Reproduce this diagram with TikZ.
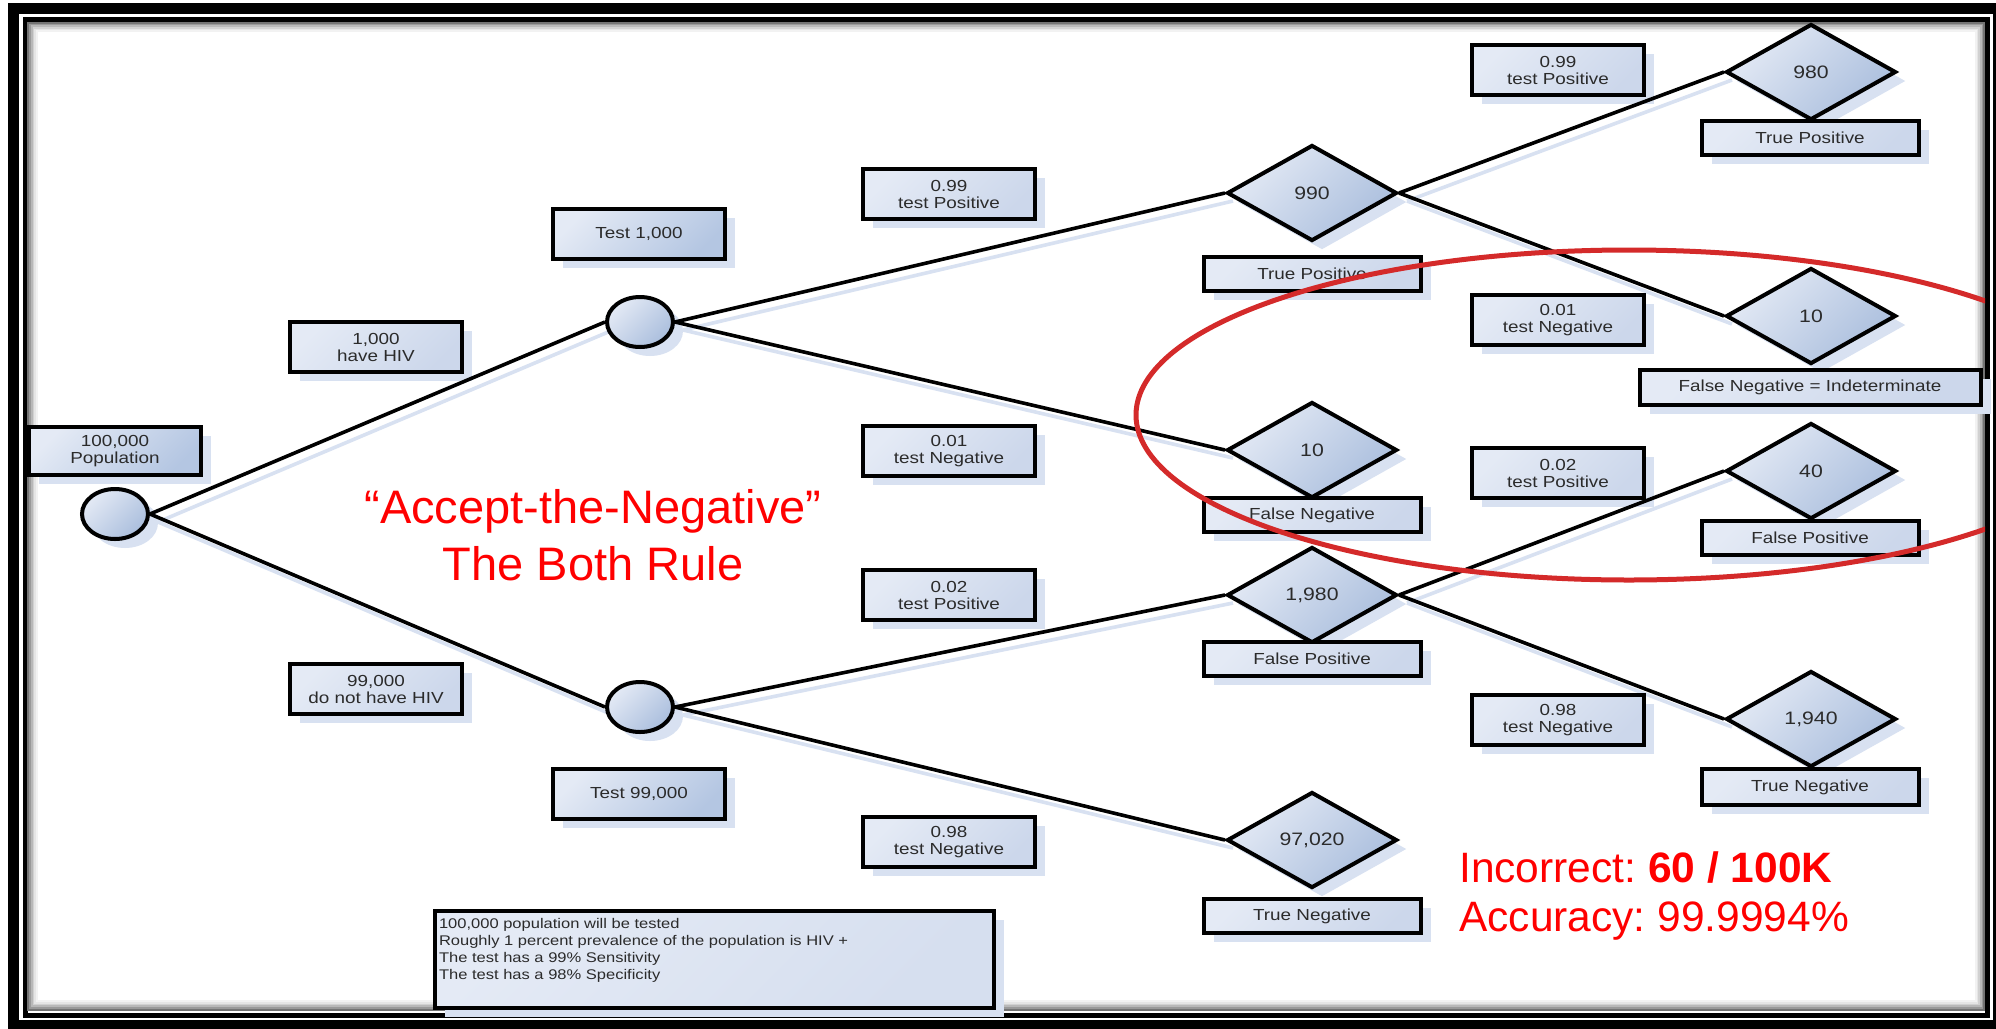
\documentclass[tikz,border=0pt]{standalone}
\usepackage{fontspec}
\setmainfont{Liberation Sans}
\newfontfamily\vsdfont[FakeStretch=1.18]{Liberation Sans}
\usetikzlibrary{shapes.geometric,shadows,backgrounds}
\frenchspacing
\definecolor{boxlight}{HTML}{E4EAF5}
\definecolor{boxdark}{HTML}{CCD7EB}
\definecolor{testdark}{HTML}{B4C6E2}
\definecolor{dialight}{HTML}{E4EAF5}
\definecolor{diadark}{HTML}{AABEDD}
\definecolor{shadowblue}{HTML}{D8E1F1}
\definecolor{ringred}{HTML}{D42A2A}
\definecolor{txtgray}{HTML}{2B2B2B}
\tikzset{
  vsd/.style={draw=black, line width=4pt, text=txtgray, inner sep=0pt,
    font=\vsdfont\fontsize{16}{17}\selectfont, align=center,
    drop shadow={shadow xshift=10pt, shadow yshift=-9pt, fill=shadowblue, opacity=1}},
  probbox/.style={vsd, rectangle, minimum width=172pt, minimum height=50pt,
    top color=boxlight, bottom color=boxdark, shading angle=45},
  testbox/.style={probbox, bottom color=testdark, shading angle=45},
  outbox/.style={vsd, rectangle, minimum width=217pt, minimum height=34pt,
    top color=boxlight, bottom color=boxdark, shading angle=45},
  chance/.style={vsd, ellipse, minimum width=66pt, minimum height=50pt,
    top color=dialight, bottom color=diadark, shading angle=45},
  leaf/.style={vsd, diamond, minimum width=170pt, minimum height=96pt,
    font=\vsdfont\fontsize{18}{20}\selectfont,
    top color=dialight, bottom color=diadark, shading angle=45},
  notebox/.style={vsd, rectangle, anchor=north west, inner xsep=4pt, inner ysep=7pt,
    font=\vsdfont\fontsize{14}{17}\selectfont,
    top color=boxlight, bottom color=boxdark!60!boxlight, shading angle=45},
  rednote/.style={text=red, inner sep=0pt},
  branch/.style={line width=3.6pt, black},
  branchshadow/.style={line width=3.6pt, shadowblue}
}
\begin{document}
\begin{tikzpicture}[x=1pt, y=-1pt]
  \useasboundingbox (0,0) rectangle (1996,1028);
  \begin{pgfonlayer}{background}
    \fill[white] (0,0) rectangle (1996,1028);
    % frame
    \draw[line width=11pt] (13.5,8.5) rectangle (1998,1025);
    \draw[line width=5pt] (25,19.5) rectangle (1987.5,1015.5);
    \foreach \i/\g in {1/55,2/40,3/28,4/18,5/10,6/5}
      \draw[black!\g, line width=1.7pt] (26.6+1.7*\i, 21.1+1.7*\i) rectangle (1985.9-1.7*\i, 1011.4-1.7*\i);
  \end{pgfonlayer}

  % chance nodes and their labels
  \draw
    (115,514) node[chance] (root){}
    (640,322) node[chance] (up){}
    (640,707) node[chance] (low){}
    (115,451) node[testbox, minimum height=48pt] (pop){100,000\\Population}
    (376,347) node[probbox] (hiv){1,000\\have HIV}
    (376,689) node[probbox] (nohiv){99,000\\do not have HIV}
    (639,234) node[testbox] (t1000){Test 1,000}
    (639,794) node[testbox] (t99000){Test 99,000};

  % first test
  \draw
    (949,194) node[probbox] (p99a){0.99\\test Positive}
    (949,451) node[probbox] (n01a){0.01\\test Negative}
    (949,595) node[probbox] (p02a){0.02\\test Positive}
    (949,842) node[probbox] (n98a){0.98\\test Negative}
    (1312,193) node[leaf] (d990){990}
    (1312,450) node[leaf] (d10a){10}
    (1312,595) node[leaf] (d1980){1,980}
    (1312,840) node[leaf] (d97020){97,020}
    (1312,274) node[outbox] (tp1){True Positive}
    (1312,515) node[outbox] (fn1){False Negative}
    (1312,659) node[outbox] (fp1){False Positive}
    (1312,916) node[outbox] (tn1){True Negative};

  % second test
  \draw
    (1558,70) node[probbox] (p99b){0.99\\test Positive}
    (1558,320) node[probbox] (n01b){0.01\\test Negative}
    (1558,473) node[probbox] (p02b){0.02\\test Positive}
    (1558,720) node[probbox] (n98b){0.98\\test Negative}
    (1811,72) node[leaf] (d980){980}
    (1811,316) node[leaf] (d10b){10}
    (1811,471) node[leaf] (d40){40}
    (1811,719) node[leaf] (d1940){1,940}
    (1810,138) node[outbox] (tp2){True Positive}
    (1810,387) node[outbox, minimum width=341pt, minimum height=35pt] (fni){False Negative = Indeterminate}
    (1810,538) node[outbox] (fp2){False Positive}
    (1810,787) node[outbox, minimum height=36pt] (tn2){True Negative};

  \node (note) [notebox] at (433,909) {\parbox[c][83pt][t]{551pt}{\raggedright
    100,000 population will be tested\\
    Roughly 1 percent prevalence of the population is HIV +\\
    The test has a 99\% Sensitivity\\
    The test has a 98\% Specificity}};

  \begin{pgfonlayer}{background}
    \foreach \a/\b in {root/up, root/low, up/d990, up/d10a, low/d1980, low/d97020,
                       d990/d980, d990/d10b, d1980/d40, d1980/d1940}
      \draw[branchshadow] ([shift={(8,8)}]\a.east) to ([shift={(8,8)}]\b.west);
  \end{pgfonlayer}
  \begin{scope}[branch]
    \draw (root.east) to (up.west);
    \draw (root.east) to (low.west);
    \draw (up.east) to (d990.west);
    \draw (up.east) to (d10a.west);
    \draw (low.east) to (d1980.west);
    \draw (low.east) to (d97020.west);
    \draw (d990.east) to (d980.west);
    \draw (d990.east) to (d10b.west);
    \draw (d1980.east) to (d40.west);
    \draw (d1980.east) to (d1940.west);
  \end{scope}

  \node (rule) [rednote, align=center, font=\fontsize{47}{57}\selectfont] at (593,535)
    {“Accept-the-Negative”\\The Both Rule};
  \node (score) [rednote, anchor=west, align=left, font=\fontsize{42.5}{49}\selectfont] at (1459,896)
    {Incorrect: \textbf{60 / 100K}\\Accuracy: 99.9994\%};

  \begin{scope}
    \clip (28,22) rectangle (1985,1013);
    \draw[ringred, line width=5pt] (1629,415) ellipse [x radius=493, y radius=165];
  \end{scope}
\end{tikzpicture}
\end{document}
